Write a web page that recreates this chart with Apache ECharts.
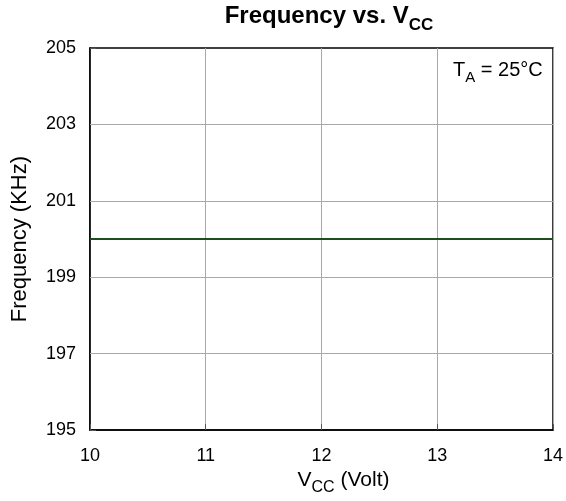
<!DOCTYPE html>
<html>
<head>
<meta charset="utf-8">
<script src="https://cdn.jsdelivr.net/npm/echarts@6/dist/echarts.min.js"></script>
<style>html,body{margin:0;padding:0;background:#fff}#c{width:566px;height:501px}</style>
</head>
<body>
<div id="c"></div>
<script>
const vcc = [10, 11, 12, 13, 14];
const freq = [200, 200, 200, 200, 200];
const xTicks = [10, 11, 12, 13, 14];
const yTicks = [195, 197, 199, 201, 203, 205];
const yGrid = [197, 199, 201, 203];

const FONT = 'Liberation Sans, Arial, sans-serif';
const chart = echarts.init(document.getElementById('c'));
chart.setOption({
  animation: false,
  backgroundColor: '#fff',
  title: {
    text: '{b|Frequency vs. V}{s|CC}',
    left: 329, top: 0, textAlign: 'center', padding: 0,
    textStyle: {
      rich: {
        b: {fontFamily: FONT, fontSize: 24, fontWeight: 'bold', color: '#000', lineHeight: 28, verticalAlign: 'bottom'},
        s: {fontFamily: FONT, fontSize: 17, fontWeight: 'bold', color: '#000', lineHeight: 28, verticalAlign: 'bottom', padding: [0, 0, -6, 0]}
      }
    }
  },
  grid: {left: 90, right: 8, top: 48, bottom: 70, show: true, borderColor: '#000', borderWidth: 1.5},
  xAxis: {
    type: 'value', min: 10, max: 14, interval: 1,
    axisLine: {show: true, lineStyle: {color: '#000', width: 1.5}},
    axisTick: {show: true, inside: true, length: 6, lineStyle: {color: '#555'}},
    axisLabel: {fontFamily: FONT, fontSize: 18, color: '#000', margin: 17},
    splitLine: {show: true, lineStyle: {color: '#a8a8a8', width: 1}},
    name: '{v|V}{s|CC}{v| (Volt)}',
    nameLocation: 'middle', nameGap: 36,
    nameTextStyle: {
      padding: [0, 0, 0, 44],
      rich: {
        v: {fontFamily: FONT, fontSize: 21, color: '#000', verticalAlign: 'bottom', lineHeight: 24},
        s: {fontFamily: FONT, fontSize: 16, color: '#000', verticalAlign: 'bottom', lineHeight: 24, padding: [0, 0, -5, 0]}
      }
    }
  },
  yAxis: {
    type: 'value', min: 195, max: 205,
    axisLine: {show: true, lineStyle: {color: '#000', width: 1.5}},
    axisTick: {show: true, inside: true, length: 6, customValues: yTicks, lineStyle: {color: '#555'}},
    axisLabel: {fontFamily: FONT, fontSize: 18, color: '#000', margin: 14, customValues: yTicks},
    splitLine: {show: false},
    name: 'Frequency (KHz)', nameLocation: 'middle', nameGap: 59, nameRotate: 90,
    nameTextStyle: {fontFamily: FONT, fontSize: 22, color: '#000'}
  },
  series: [{
    type: 'line',
    data: vcc.map((x, i) => [x, freq[i]]),
    symbol: 'none',
    lineStyle: {color: '#1e4d1e', width: 2},
    markLine: {
      silent: true, symbol: 'none', label: {show: false},
      lineStyle: {color: '#a8a8a8', type: 'solid', width: 1},
      data: yGrid.map(v => ({yAxis: v}))
    },
    z: 5
  }],
  graphic: [{
    type: 'text', left: 453, top: 60,
    style: {
      text: '{v|T}{s|A}{v| = 25°C}',
      rich: {
        v: {fontFamily: FONT, fontSize: 20, fill: '#000', verticalAlign: 'bottom', lineHeight: 22},
        s: {fontFamily: FONT, fontSize: 15, fill: '#000', verticalAlign: 'bottom', lineHeight: 22, padding: [0, 0, -5, 0]}
      }
    }
  }]
});
</script>
</body>
</html>
